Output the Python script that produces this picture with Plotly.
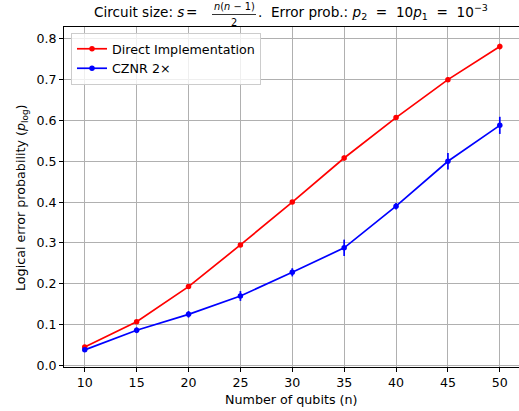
import plotly.graph_objects as go

qubits = [10, 15, 20, 25, 30, 35, 40, 45, 50]
direct = [0.045, 0.107, 0.193, 0.295, 0.400, 0.508, 0.607, 0.700, 0.781]
direct_err = [0.004, 0.004, 0.005, 0.005, 0.005, 0.006, 0.005, 0.006, 0.007]
cznr = [0.038, 0.086, 0.125, 0.170, 0.228, 0.288, 0.390, 0.500, 0.588]
cznr_err = [0.004, 0.007, 0.008, 0.012, 0.010, 0.020, 0.008, 0.020, 0.021]

W, H = 519, 411
L, R, T, B = 64, 0, 27, 44
pw, ph = W - L - R, H - T - B

def px(x):
    return (x - L) / pw

def py(y):
    return (H - B - y) / ph

FONT = "DejaVu Sans"

fig = go.Figure()
fig.add_trace(go.Scatter(
    x=qubits, y=direct, name="Direct Implementation", mode="lines+markers",
    line=dict(color="#ff0000", width=1.7), marker=dict(color="#ff0000", size=5.5),
    error_y=dict(type="data", array=direct_err, color="#ff0000", thickness=1.7, width=0),
))
fig.add_trace(go.Scatter(
    x=qubits, y=cznr, name="CZNR 2×", mode="lines+markers",
    line=dict(color="#0000ff", width=1.7), marker=dict(color="#0000ff", size=5.5),
    error_y=dict(type="data", array=cznr_err, color="#0000ff", thickness=1.7, width=0),
))

axis_common = dict(
    showgrid=True, gridcolor="#b0b0b0", gridwidth=0.8,
    showline=True, linecolor="black", linewidth=1,
    ticks="outside", ticklen=4, tickcolor="black", tickwidth=1,
    tickfont=dict(family=FONT, size=12.6, color="black"),
    zeroline=False,
)
fig.update_xaxes(range=[8, 51.85], tickvals=qubits, mirror=True, **axis_common)
fig.update_yaxes(range=[-0.004, 0.829], tickvals=[0, 0.1, 0.2, 0.3, 0.4, 0.5, 0.6, 0.7, 0.8],
                 tickformat=".1f", mirror=False, **axis_common)

ann = []
# title pieces
ann.append(dict(text="Circuit size: <i>s</i>", x=px(92), y=py(12.5), xanchor="left", yanchor="middle",
                font=dict(size=13.6)))
ann.append(dict(text="=", x=px(191.5), y=py(12.5), xanchor="center", yanchor="middle",
                font=dict(size=13.6)))
ann.append(dict(text="<i>n</i>(<i>n</i> − 1)", x=px(234), y=py(7), xanchor="center", yanchor="middle",
                font=dict(size=9.8)))
ann.append(dict(text="2", x=px(234), y=py(22), xanchor="center", yanchor="middle",
                font=dict(size=9.8)))
ann.append(dict(text=".  Error prob.: <i>p</i><sub>2</sub>&nbsp; = &nbsp;10<i>p</i><sub>1</sub>&nbsp; = &nbsp;10<sup>−3</sup>",
                x=px(256), y=py(12.5), xanchor="left", yanchor="middle", font=dict(size=13.6)))
# axis titles
ann.append(dict(text="Number of qubits (n)", x=px(291.5), y=py(399), xanchor="center", yanchor="middle",
                font=dict(size=12.7)))
ann.append(dict(text="Logical error probability (<i>p</i><sub>log</sub>)", x=px(21), y=py(198),
                xanchor="center", yanchor="middle", textangle=-90, font=dict(size=12.7)))
for a in ann:
    a.update(xref="paper", yref="paper", showarrow=False)
    a["font"].update(family=FONT, color="black")

fig.update_layout(
    width=W, height=H, margin=dict(l=L, r=R, t=T, b=B, autoexpand=False),
    paper_bgcolor="white", plot_bgcolor="white",
    annotations=ann,
    shapes=[dict(type="line", xref="paper", yref="paper", x0=px(212), x1=px(256), y0=py(14.5), y1=py(14.5),
                 line=dict(color="black", width=0.8))],
    legend=dict(x=px(71), y=py(33), xanchor="left", yanchor="top",
                bgcolor="rgba(255,255,255,0.8)", bordercolor="#cccccc", borderwidth=1,
                font=dict(family=FONT, size=12.7, color="black"), tracegroupgap=0,
                itemwidth=30),
    showlegend=True,
)

fig.write_html("out.html")
